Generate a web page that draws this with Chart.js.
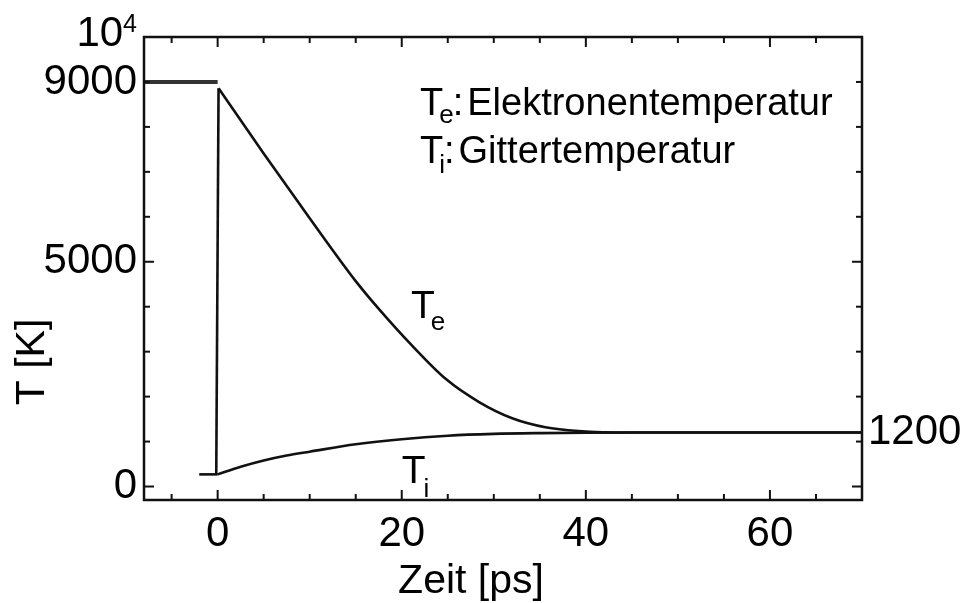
<!DOCTYPE html>
<html lang="de">
<head>
<meta charset="utf-8">
<title>Elektronen- und Gittertemperatur</title>
<script src="https://cdn.jsdelivr.net/npm/chart.js@4.4.1/dist/chart.umd.min.js"></script>
<style>
  html, body { margin: 0; padding: 0; background: #fff; }
  #wrap { width: 965px; height: 603px; position: relative; }
</style>
</head>
<body>
<div id="wrap"><canvas id="tempChart"></canvas></div>
<script>
// time in ps, temperature in K

// before the pulse both temperatures sit at room level
const preTime = [-2, 0];
const preTemp = [270, 270];

// electron temperature: jump at t = 0, then relaxation
const jumpTime = [-0.15, 0.1];
const jumpTemp = [270, 8860];
const teTime = [0.1, 5, 10, 15, 17.6, 21.1, 24.8, 28.4, 32, 35.6, 39.2, 45, 60, 70];
const teTemp = [8860, 7410, 5970, 4570, 3930, 3140, 2390, 1880, 1520, 1320, 1235, 1200, 1200, 1200];

// lattice temperature
const tiTime = [0, 2.5, 5, 7.5, 10, 15, 20, 25, 30, 35, 40, 45, 60, 70];
const tiTemp = [270, 440, 580, 690, 775, 940, 1053, 1130, 1170, 1188, 1197, 1200, 1200, 1200];

// starting level line up to t = 0
const startTime = [-8, 0];
const startTemp = [9000, 9000];

const xTicks = [0, 20, 40, 60];
const yTicks = [0, 5000, 9000, 10000];
const rightTicks = [1200];

const FONT = "'Liberation Sans', Arial, Helvetica, sans-serif";
const INK = '#111';
const TICK_SIZE = 42;

function toPoints(xs, ys) {
  return xs.map((x, i) => ({ x: x, y: ys[i] }));
}

function line(ctx, x1, y1, x2, y2) {
  ctx.beginPath();
  ctx.moveTo(x1, y1);
  ctx.lineTo(x2, y2);
  ctx.stroke();
}

// T with a subscript, returns the x where the next text goes
function tSub(ctx, x, y, big, small, sub, subDrop, kern) {
  ctx.font = big + 'px ' + FONT;
  ctx.fillText('T', x, y);
  const sx = x + ctx.measureText('T').width - kern;
  ctx.font = small + 'px ' + FONT;
  ctx.fillText(sub, sx, y + subDrop);
  return sx + ctx.measureText(sub).width;
}

const framePlugin = {
  id: 'framePlugin',
  afterDatasetsDraw(chart) {
    const ctx = chart.ctx;
    const a = chart.chartArea;
    const x = chart.scales.x;
    const y = chart.scales.y;
    ctx.save();
    ctx.strokeStyle = INK;
    ctx.fillStyle = '#000';

    // box
    ctx.lineWidth = 2.5;
    ctx.strokeRect(a.left, a.top, a.right - a.left, a.bottom - a.top);

    // inward ticks on all four sides
    ctx.lineWidth = 2;
    for (let t = -5; t <= 65; t += 5) {
      const px = x.getPixelForValue(t);
      const len = t % 20 === 0 ? 10 : 6;
      line(ctx, px, a.bottom, px, a.bottom - len);
      line(ctx, px, a.top, px, a.top + len);
    }
    for (let v = 0; v <= 9000; v += 1000) {
      const py = y.getPixelForValue(v);
      const len = v % 5000 === 0 ? 10 : 6;
      line(ctx, a.left, py, a.left + len, py);
      line(ctx, a.right, py, a.right - len, py);
    }

    // 10^4 at the top of the y axis
    const topY = y.getPixelForValue(10000);
    ctx.textAlign = 'right';
    ctx.textBaseline = 'alphabetic';
    ctx.font = '25px ' + FONT;
    const supW = ctx.measureText('4').width;
    ctx.fillText('4', a.left - 7, topY - 5);
    ctx.font = TICK_SIZE + 'px ' + FONT;
    ctx.fillText('10', a.left - 7 - supW, topY + 9);

    // axis titles
    ctx.textAlign = 'center';
    ctx.font = '41px ' + FONT;
    ctx.fillText('Zeit [ps]', (a.left + a.right) / 2 - 32, 593);
    ctx.save();
    ctx.translate(44, 362);
    ctx.rotate(-Math.PI / 2);
    ctx.fillText('T [K]', 0, 0);
    ctx.restore();

    // key in the upper right
    ctx.textAlign = 'left';
    let nx = tSub(ctx, a.left + 276, 115, 38, 26, 'e', 8, 4);
    ctx.font = '38px ' + FONT;
    ctx.fillText(':', nx - 1, 115);
    ctx.fillText('Elektronentemperatur', nx + ctx.measureText(':').width + 3, 115);
    nx = tSub(ctx, a.left + 276, 163, 38, 26, 'i', 10, 4);
    ctx.font = '38px ' + FONT;
    ctx.fillText(':', nx - 1, 163);
    ctx.fillText('Gittertemperatur', nx + ctx.measureText(':').width + 3, 163);

    // curve labels
    tSub(ctx, x.getPixelForValue(21), y.getPixelForValue(3750), 39, 26, 'e', 12, 4);
    tSub(ctx, x.getPixelForValue(20), y.getPixelForValue(80), 39, 26, 'i', 14, 2);

    ctx.restore();
  }
};

const straight = {
  borderColor: INK,
  borderWidth: 2.6,
  pointRadius: 0,
  fill: false,
  tension: 0
};
const smooth = Object.assign({}, straight, { cubicInterpolationMode: 'monotone' });

new Chart(document.getElementById('tempChart'), {
  type: 'line',
  data: {
    datasets: [
      Object.assign({ label: 'Start', data: toPoints(startTime, startTemp) }, straight,
        { borderColor: '#333', borderWidth: 4 }),
      Object.assign({ label: 'vor Puls', data: toPoints(preTime, preTemp) }, straight),
      Object.assign({ label: 'Te Anstieg', data: toPoints(jumpTime, jumpTemp) }, straight),
      Object.assign({ label: 'Te', data: toPoints(teTime, teTemp) }, smooth),
      Object.assign({ label: 'Ti', data: toPoints(tiTime, tiTemp) }, smooth)
    ]
  },
  options: {
    responsive: true,
    maintainAspectRatio: false,
    animation: false,
    layout: { padding: { top: 37, left: 0, right: 0, bottom: 0 } },
    plugins: {
      legend: { display: false },
      tooltip: { enabled: false }
    },
    scales: {
      x: {
        type: 'linear',
        min: -8,
        max: 70,
        afterBuildTicks: s => { s.ticks = xTicks.map(v => ({ value: v })); },
        afterFit: s => { s.height = 103; },
        grid: { display: false, drawTicks: false },
        border: { display: false },
        ticks: {
          color: '#000',
          padding: 9,
          maxRotation: 0,
          font: { family: FONT, size: TICK_SIZE }
        }
      },
      y: {
        min: -300,
        max: 10000,
        afterBuildTicks: s => { s.ticks = yTicks.map(v => ({ value: v })); },
        afterFit: s => { s.width = 144; },
        grid: { display: false, drawTicks: false },
        border: { display: false },
        ticks: {
          color: '#000',
          padding: 7,
          font: { family: FONT, size: TICK_SIZE },
          callback: v => (v === 10000 ? '' : String(v))
        }
      },
      y2: {
        position: 'right',
        min: -300,
        max: 10000,
        afterBuildTicks: s => { s.ticks = rightTicks.map(v => ({ value: v })); },
        afterFit: s => { s.width = 103; },
        grid: { display: false, drawTicks: false },
        border: { display: false },
        ticks: {
          color: '#000',
          padding: 6,
          font: { family: FONT, size: TICK_SIZE },
          callback: v => String(v)
        }
      }
    }
  },
  plugins: [framePlugin]
});
</script>
</body>
</html>
